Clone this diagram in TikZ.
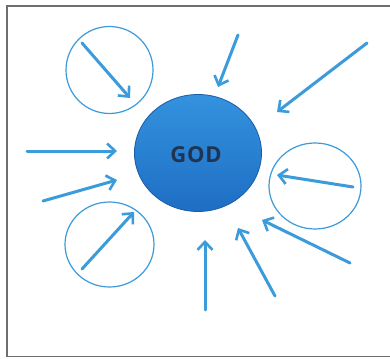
\documentclass[tikz,border=0pt]{standalone}
\usepackage{fontspec}
\setmainfont{Open Sans}
\usetikzlibrary{arrows.meta,shapes.geometric}
\definecolor{arrowblue}{RGB}{60,155,218}
\definecolor{godtop}{RGB}{52,146,222}
\definecolor{godbot}{RGB}{30,110,196}
\definecolor{godtext}{RGB}{30,52,80}
\definecolor{framegray}{RGB}{110,110,110}
\tikzset{
  inarrow/.style={draw=arrowblue, line width=3pt, line cap=round,
    -{Straight Barb[length=8pt,width=15pt,line width=2.6pt]}},
  ring/.style={draw=arrowblue, line width=1.2pt, circle, inner sep=0pt},
  godnode/.style={ellipse, minimum width=127pt, minimum height=117pt,
    top color=godtop, bottom color=godbot, draw=godbot!85!black, line width=0.8pt},
}
\begin{document}
\begin{tikzpicture}[x=1pt,y=-1pt]
\useasboundingbox (0,0) rectangle (390,358);
\fill[white] (0,0) rectangle (390,358);
\draw[framegray, line width=1.6pt] (392,6) -- (7,6) -- (7,356.5) -- (392,356.5);
\node[godnode] (god) at (198,153) {};
\node[font=\bfseries\fontsize{22}{22}\selectfont\addfontfeature{LetterSpace=4}, text=godtext] (godlabel) at (196,155) {GOD};
\node[ring, minimum size=87pt] (c1) at (109.5,70) {};
\node[ring, minimum width=92pt, minimum height=86pt, ellipse] (c2) at (315,186) {};
\node[ring, minimum width=89pt, minimum height=85pt, ellipse] (c3) at (109.5,244.5) {};
\coordinate (t1) at (82,43);   \coordinate (h1) at (130,98);
\coordinate (t2) at (238,35);  \coordinate (h2) at (218,87);
\coordinate (t3) at (367,43);  \coordinate (h3) at (277,112);
\coordinate (t4) at (27,151);  \coordinate (h4) at (117,151);
\coordinate (t5) at (43,201);  \coordinate (h5) at (117,180);
\coordinate (t6) at (82,269);  \coordinate (h6) at (134,212);
\coordinate (t7) at (205,310); \coordinate (h7) at (205,240);
\coordinate (t8) at (275,296); \coordinate (h8) at (238,228);
\coordinate (t9) at (350,263); \coordinate (h9) at (262,220);
\coordinate (t10) at (353,187); \coordinate (h10) at (277,175);
\foreach \i in {1,...,10} \draw[inarrow] (t\i) -- (h\i);
\end{tikzpicture}
\end{document}
